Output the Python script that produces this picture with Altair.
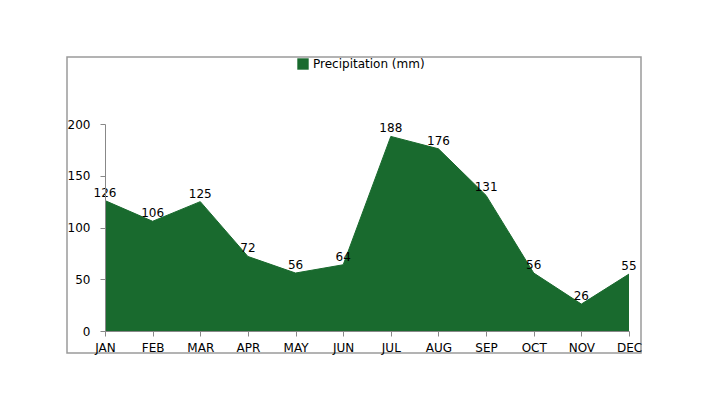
import altair as alt
import pandas as pd

months = ["JAN", "FEB", "MAR", "APR", "MAY", "JUN", "JUL", "AUG", "SEP", "OCT", "NOV", "DEC"]
precip = [126, 106, 125, 72, 56, 64, 188, 176, 131, 56, 26, 55]
series_name = "Precipitation (mm)"

df = pd.DataFrame({"month": months, "value": precip, "series": series_name})

W, H = 524, 207
FONT = "DejaVu Sans"
GREEN = "#196a2e"

x = alt.X("month:N", sort=months, scale=alt.Scale(type="point", padding=0),
          axis=alt.Axis(title=None, labelAngle=0, labelFontSize=12, labelFont=FONT,
                        labelColor="#000", tickColor="#888", domainColor="#888",
                        tickSize=5, labelPadding=6, zindex=1))
y = alt.Y("value:Q", scale=alt.Scale(domain=[0, 200], nice=False),
          axis=alt.Axis(title=None, values=[0, 50, 100, 150, 200], grid=False,
                        labelFontSize=12, labelFont=FONT, labelColor="#000",
                        tickColor="#888", domainColor="#888", tickSize=5, labelPadding=10,
                        zindex=1))

frame = alt.Chart(pd.DataFrame({"a": [0]})).mark_rect(
    fillOpacity=0, stroke="#9a9a9a", strokeWidth=1.5
).encode(x=alt.value(-38), x2=alt.value(536), y=alt.value(-67), y2=alt.value(229))

area = alt.Chart(df).mark_area(opacity=1, line={"color": "#e8f0e8", "strokeWidth": 1}).encode(
    x=x, y=y,
    color=alt.Color("series:N", scale=alt.Scale(domain=[series_name], range=[GREEN]),
                    legend=alt.Legend(title=None, orient="none", legendX=192, legendY=-66,
                                      symbolType="square", symbolSize=130, labelFontSize=12,
                                      labelFont=FONT, labelColor="#000", symbolStrokeWidth=0))
)

labels = alt.Chart(df).mark_text(dy=-8, fontSize=12, font=FONT, color="#000").encode(
    x=alt.X("month:N", sort=months), y="value:Q", text="value:Q"
)

chart = alt.layer(frame, area, labels).properties(
    width=W, height=H,
    autosize=alt.AutoSizeParams(type="none"),
    padding={"left": 97, "top": 116, "right": 60, "bottom": 50},
    background="white",
).configure_view(strokeWidth=0, stroke="transparent")

chart.save("out.html", embed_options={"renderer": "svg", "actions": False})
